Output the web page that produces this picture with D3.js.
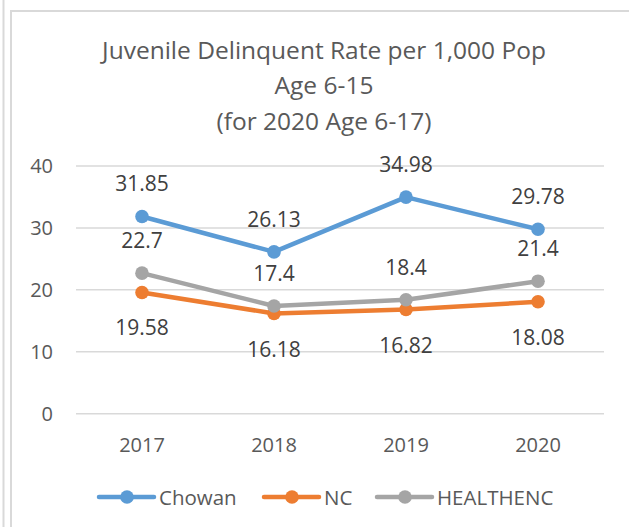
<!DOCTYPE html>
<html>
<head>
<meta charset="utf-8">
<script src="https://cdn.jsdelivr.net/npm/d3@7"></script>
<style>
  body { margin: 0; background: #fff; }
  text { font-family: "Open Sans", Lato, sans-serif; }
</style>
</head>
<body>
<div id="chart"></div>
<script>
// data
var years = ["2017", "2018", "2019", "2020"];
var chowan = [31.85, 26.13, 34.98, 29.78];
var nc = [19.58, 16.18, 16.82, 18.08];
var healthenc = [22.7, 17.4, 18.4, 21.4];
var yTicks = [0, 10, 20, 30, 40];
var titleLines = ["Juvenile Delinquent Rate per 1,000 Pop", "Age 6-15", "(for 2020 Age 6-17)"];

var series = [
  { name: "Chowan", values: chowan, color: "#5B9BD5", labelPos: "above" },
  { name: "NC", values: nc, color: "#ED7D31", labelPos: "below" },
  { name: "HEALTHENC", values: healthenc, color: "#A5A5A5", labelPos: "above" }
];

var width = 629, height = 527;
var margin = { top: 166, left: 76, right: 25, bottom: 113 };

var svg = d3.select('#chart')
  .append('svg')
  .attr('width', width)
  .attr('height', height);

// chart frame
svg.append('line').attr('x1', 3.5).attr('x2', 3.5).attr('y1', 0).attr('y2', height)
  .attr('stroke', '#d9d9d9').attr('stroke-width', 2);
svg.append('line').attr('x1', 11).attr('x2', 11).attr('y1', 10).attr('y2', height)
  .attr('stroke', '#d9d9d9').attr('stroke-width', 2);
svg.append('line').attr('x1', 10).attr('x2', width).attr('y1', 11).attr('y2', 11)
  .attr('stroke', '#d9d9d9').attr('stroke-width', 2);

var x = d3.scaleBand()
  .domain(years)
  .range([margin.left, width - margin.right]);

var y = d3.scaleLinear()
  .domain([0, 40])
  .range([height - margin.bottom - 0.3, margin.top]);

// title
svg.append('text')
  .attr('x', 324)
  .attr('y', 58.5)
  .attr('text-anchor', 'middle')
  .attr('fill', '#595959')
  .style('font-size', '24.5px')
  .selectAll('tspan')
  .data(titleLines)
  .enter()
  .append('tspan')
  .attr('x', 324)
  .attr('dy', function (d, i) { return i === 0 ? 0 : 35.5; })
  .text(function (d) { return d; });

// gridlines
svg.append('g')
  .selectAll('line')
  .data(yTicks)
  .enter()
  .append('line')
  .attr('x1', x.range()[0])
  .attr('x2', x.range()[1])
  .attr('y1', function (d) { return y(d); })
  .attr('y2', function (d) { return y(d); })
  .attr('stroke', '#d9d9d9')
  .attr('stroke-width', 1.5);

// y axis labels
var yAxis = d3.axisLeft(y).tickValues(yTicks).tickSize(0).tickPadding(23);
svg.append('g')
  .attr('transform', 'translate(' + x.range()[0] + ',0)')
  .call(yAxis)
  .call(function (g) { g.select('.domain').remove(); })
  .selectAll('text')
  .attr('fill', '#595959')
  .style('font-size', '20px');

// x axis labels
var xAxis = d3.axisBottom(x).tickSize(0).tickPadding(24);
svg.append('g')
  .attr('transform', 'translate(0,' + y(0) + ')')
  .call(xAxis)
  .call(function (g) { g.select('.domain').remove(); })
  .selectAll('text')
  .attr('fill', '#595959')
  .style('font-size', '20px');

var line = d3.line()
  .x(function (d, i) { return x(years[i]) + x.bandwidth() / 2; })
  .y(function (d) { return y(d); });

// lines, markers, labels
series.forEach(function (s) {
  var g = svg.append('g');
  g.append('path')
    .attr('d', line(s.values))
    .attr('fill', 'none')
    .attr('stroke', s.color)
    .attr('stroke-width', 4.5)
    .attr('stroke-linejoin', 'round')
    .attr('stroke-linecap', 'round');
  g.selectAll('circle')
    .data(s.values)
    .enter()
    .append('circle')
    .attr('cx', function (d, i) { return x(years[i]) + x.bandwidth() / 2; })
    .attr('cy', function (d) { return y(d); })
    .attr('r', 6.8)
    .attr('fill', s.color);
  g.selectAll('text')
    .data(s.values)
    .enter()
    .append('text')
    .attr('x', function (d, i) { return x(years[i]) + x.bandwidth() / 2; })
    .attr('y', function (d) { return y(d) + (s.labelPos === 'above' ? -25 : 43); })
    .attr('text-anchor', 'middle')
    .attr('fill', '#404040')
    .style('font-size', '21px')
    .text(function (d) { return d; });
});

// legend
var legendX = [99, 264, 377];
var legend = svg.selectAll('.legend')
  .data(series)
  .enter()
  .append('g')
  .attr('class', 'legend')
  .attr('transform', function (d, i) { return 'translate(' + legendX[i] + ',497)'; });
legend.append('line')
  .attr('x1', 0).attr('x2', 55)
  .attr('y1', 0).attr('y2', 0)
  .attr('stroke', function (d) { return d.color; })
  .attr('stroke-width', 4.5)
  .attr('stroke-linecap', 'round');
legend.append('circle')
  .attr('cx', 28).attr('cy', 0).attr('r', 6.8)
  .attr('fill', function (d) { return d.color; });
legend.append('text')
  .attr('x', 60)
  .attr('y', 7.5)
  .attr('fill', '#595959')
  .style('font-size', '20.5px')
  .text(function (d) { return d.name; });
</script>
</body>
</html>
